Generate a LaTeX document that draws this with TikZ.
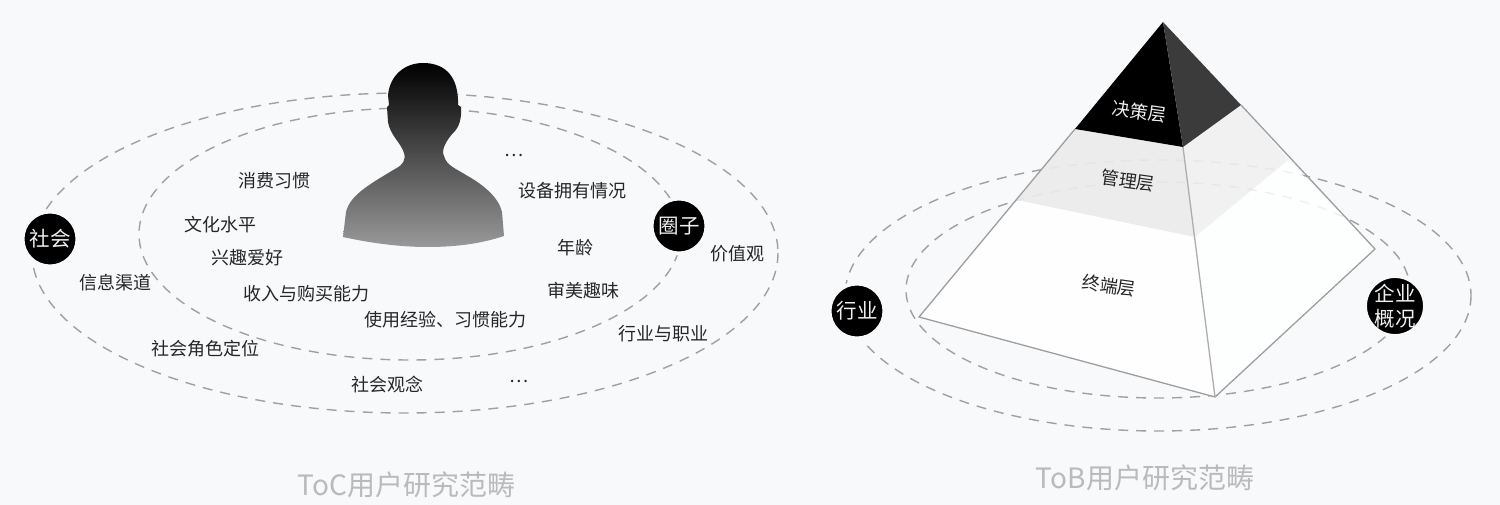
\documentclass[tikz,border=0pt]{standalone}
\usepackage{fontspec}
\setmainfont{Noto Sans CJK SC}
\usetikzlibrary{calc}
\definecolor{bg}{HTML}{F8F9FB}
\definecolor{dashc}{HTML}{A0A0A0}
\definecolor{edgec}{HTML}{9E9E9E}
\tikzset{
  x=1pt,y=-1pt,
  lbl/.style={inner sep=0pt,font=\fontsize{18}{21}\selectfont,text=black!85},
  orbit/.style={draw=dashc,line width=1.4pt,dash pattern=on 10pt off 8pt},
  badge/.style={circle,fill=black,draw=bg,line width=4pt,text=black!6,inner sep=0pt,minimum size=#1,align=center,font=\fontsize{20.5}{25}\selectfont},
  badge/.default=55pt,
  tier/.style={inner sep=0pt,rotate=-8,font=\fontsize{18}{20}\selectfont,text=black!85},
  heading/.style={inner sep=0pt,text=black!27,font=\fontsize{28}{30}\selectfont},
  pedge/.style={draw=edgec,line width=1.3pt,line join=miter}
}
\begin{document}
\begin{tikzpicture}
\useasboundingbox (0,0) rectangle (1500,505);
\fill[bg] (0,0) rectangle (1500,505);
% left orbits
\draw[orbit] (405,253) ellipse [x radius=373,y radius=160];
\draw[orbit] (410,234) ellipse [x radius=271,y radius=126];
% person
\shade[top color=black,bottom color=black!40,shading angle=0]
  (423,63) .. controls (442,63) and (457,73) .. (458,100)
  -- (458,105) -- (461,107) .. controls (462,118) and (459,128) .. (453,133)
  .. controls (446,141) and (441,150) .. (444,156)
  .. controls (447,166) and (455,168) .. (466,175)
  .. controls (484,185) and (499,198) .. (502,212)
  -- (504,236) .. controls (480,244) and (455,247) .. (427,247)
  .. controls (400,247) and (370,243) .. (343,237)
  -- (346,212) .. controls (350,195) and (370,184) .. (395,169)
  .. controls (403,165) and (406,160) .. (404,153)
  .. controls (401,143) and (390,135) .. (388,122)
  -- (387,107) -- (389,105) -- (388,95)
  .. controls (390,75) and (405,63) .. (423,63) -- cycle;
% left labels
\node[lbl] (a1) at (274,181) {消费习惯};
\node[lbl] (a2) at (220,225) {文化水平};
\node[lbl] (a3) at (247.5,258) {兴趣爱好};
\node[lbl] (a4) at (306,294) {收入与购买能力};
\node[lbl] (a5) at (445,320) {使用经验、习惯能力};
\node[lbl] (a6) at (115,283) {信息渠道};
\node[lbl] (a7) at (205,349) {社会角色定位};
\node[lbl] (a8) at (387,384) {社会观念};
\node[lbl] (a9) at (519,381) {…};
\node[lbl] (a10) at (663,334) {行业与职业};
\node[lbl] (a11) at (583,291) {审美趣味};
\node[lbl] (a12) at (575,248) {年龄};
\node[lbl] (a13) at (737,254) {价值观};
\node[lbl] (a14) at (572,191) {设备拥有情况};
\node[lbl] (a15) at (514,155) {…};
\node[badge] (s1) at (50,239) {社会};
\node[badge] (s2) at (679,226) {圈子};
% right orbits
\draw[orbit] (1158,295.5) ellipse [x radius=313,y radius=135.5];
\draw[orbit] (1158,290) ellipse [x radius=252,y radius=108];
% pyramid
\coordinate (apex) at (1163,22);
\coordinate (cl) at (1075,129);
\coordinate (cc) at (1183,147);
\coordinate (cr) at (1241,105);
\coordinate (ml) at (1017,200);
\coordinate (mc) at (1195,237);
\coordinate (mr) at (1288,160);
\coordinate (bl) at (919,317);
\coordinate (bc) at (1215,397);
\coordinate (br) at (1375,249);
\fill[white,fill opacity=0.92] (ml) -- (mc) -- (bc) -- (bl) -- cycle;
\fill[white,fill opacity=0.85] (mc) -- (mr) -- (br) -- (bc) -- cycle;
\fill[black!8,fill opacity=0.92] (cl) -- (cc) -- (mc) -- (ml) -- cycle;
\fill[black!5.5,fill opacity=0.88] (cc) -- (cr) -- (mr) -- (mc) -- cycle;
\fill[black] (apex) -- (cc) -- (cl) -- cycle;
\fill[black!77] (apex) -- (cr) -- (cc) -- cycle;
\draw[pedge] (cl) -- (bl) -- (bc) -- (br) -- (cr);
\draw[pedge,draw=edgec!85] (cc) -- (bc);
\node[tier,text=black!6] (t1) at (1139.5,112) {决策层};
\node[tier] (t2) at (1128,181) {管理层};
\node[tier] (t3) at (1109,286) {终端层};
\node[badge] (s3) at (857,311) {行业};
\node[badge=60pt] (s4) at (1395,306) {企业\\概况};
% headings
\node[heading] (h1) at (406.5,485) {ToC用户研究范畴};
\node[heading] (h2) at (1145,478) {ToB用户研究范畴};
\end{tikzpicture}
\end{document}
